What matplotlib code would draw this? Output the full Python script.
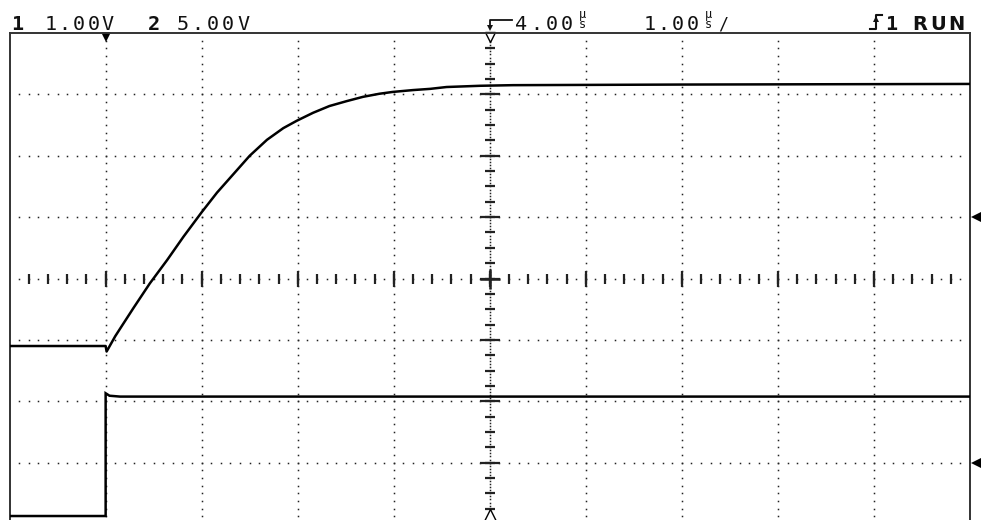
import matplotlib
matplotlib.use("Agg")
import matplotlib.pyplot as plt
from matplotlib.lines import Line2D
import numpy as np

W, H = 982, 520

# scope settings (from the header line)
ch1_scale = 1.0      # V/div
ch2_scale = 5.0      # V/div
ch1_ground = 1.0     # ground marker position, div from centre
ch2_ground = -3.0
t_div = 1.0          # us/div
delay = 4.0          # us at screen centre

# channel 1: slew-limited step response (t in us, volts)
ch1_t = [-1.0, 0.0, 0.01, 0.10, 0.17, 0.29, 0.46, 0.64, 0.81, 1.00, 1.16, 1.33,
         1.50, 1.68, 1.85, 1.99, 2.16, 2.33, 2.51, 2.68, 2.85, 2.99, 3.20, 3.38,
         3.55, 3.90, 4.24, 6.0, 9.0]
ch1_v = [-2.10, -2.10, -2.19, -1.94, -1.77, -1.48, -1.08, -0.70, -0.32, 0.08, 0.40, 0.70,
         1.00, 1.26, 1.45, 1.57, 1.70, 1.81, 1.89, 1.96, 2.01, 2.04, 2.07, 2.09,
         2.12, 2.14, 2.15, 2.16, 2.17]

# channel 2: input step
ch2_t = [-1.0, 0.0, 0.0, 0.04, 0.15, 9.0]
ch2_v = [-4.35, -4.35, 5.65, 5.45, 5.38, 5.38]

header = [  # text, x of first cell (px), cell pitch (px), bold
    ("1", 10, 14.0, True),
    ("1.00V", 43, 14.4, False),
    ("2", 146, 15.0, True),
    ("5.00V", 175, 15.2, False),
    ("4.00", 514, 15.0, False),
    ("1.00", 642, 14.5, False),
    ("1", 884, 14.0, True),
]


def fx(x):
    return x / W


def fy(y):
    return 1 - y / H


def main():
    fig = plt.figure(figsize=(W / 100, H / 100), dpi=100)
    # screen area: x 9.6..970 px, y 33..524 px (bottom is cut off)
    ax = fig.add_axes([9.6 / W, (H - 524) / H, 960.4 / W, 491 / H])
    x0, x1 = delay - 5 * t_div, delay + 5 * t_div
    ax.set_xlim(x0, x1)
    ax.set_ylim(-4, 4)
    ax.set_xticks([])
    ax.set_yticks([])
    for s in ax.spines.values():
        s.set_color("#333333")
        s.set_linewidth(1.4)

    dot = dict(ls="none", marker="s", ms=1.1, color="#222222", mew=0)
    # dotted graticule
    for k in range(1, 10):
        gx = x0 + k * t_div
        if gx == delay:
            continue
        ys = np.arange(-4, 4.001, 1 / 8)[1:-1]
        ax.plot(np.full_like(ys, gx), ys, **dot)
    for gy in [-3, -2, -1, 1, 2, 3]:
        xs = np.arange(x0, x1 + 1e-6, t_div / 10)[1:-1]
        ax.plot(xs, np.full_like(xs, gy), **dot)

    # centre axes with ticks
    xs = np.arange(x0, x1 + 1e-6, t_div / 10)[1:-1]
    ax.plot(xs, np.zeros_like(xs), **dot)
    xt = np.arange(x0, x1 + 1e-6, t_div / 5)[1:-1]
    ax.plot(xt, np.zeros_like(xt), ls="none", marker="|", ms=7.5, mew=1.6, color="#222222")
    xi = np.arange(x0 + t_div, x1, t_div)
    ax.plot(xi, np.zeros_like(xi), ls="none", marker="|", ms=12, mew=1.6, color="#222222")
    ys = np.arange(-4, 4.001, 1 / 20)[1:-1]
    ax.plot(np.full_like(ys, delay), ys, **dot)
    yt = np.arange(-4, 4.001, 0.25)[1:-1]
    ax.plot(np.full_like(yt, delay), yt, ls="none", marker="_", ms=7.5, mew=1.6, color="#222222")
    yi = np.arange(-3, 4, 1.0)
    ax.plot(np.full_like(yi, delay), yi, ls="none", marker="_", ms=14.5, mew=1.6, color="#222222")
    ax.plot([delay], [0], ls="none", marker="+", ms=15, mew=1.8, color="#222222")

    # traces
    y1 = np.array(ch1_v) / ch1_scale + ch1_ground
    y2 = np.array(ch2_v) / ch2_scale + ch2_ground
    ax.plot(ch1_t, y1, color="black", lw=1.8, solid_joinstyle="round", zorder=5)
    ax.plot(ch2_t, y2, color="black", lw=1.8, solid_joinstyle="miter", zorder=5)

    # markers on the screen edges
    ax.plot([0], [4 - 4.5 / 61.4], marker="v", ms=7, color="black", mew=0, clip_on=False)
    ax.plot([delay], [4 - 4.5 / 61.4], marker="v", ms=7, mfc="white", mec="black", mew=1, clip_on=False)
    ax.plot([delay], [-4 + 9 / 61.4], marker="^", ms=8, mfc="white", mec="black", mew=1, clip_on=False)
    for g in [ch1_ground, ch2_ground]:
        ax.plot([x1 + 5.5 / 96], [g], marker="<", ms=7, color="black", mew=0, clip_on=False)

    # header text, drawn cell by cell like the scope's fixed-pitch font
    base = fy(29.5)
    for text, x, pitch, bold in header:
        for i, c in enumerate(text):
            fig.text(fx(x + (i + 0.5) * pitch), base, c, ha="center", va="baseline",
                     family="DejaVu Sans Mono", fontsize=14.5,
                     fontweight="bold" if bold else "normal", color="#111111")
    for i, c in enumerate("RUN"):
        fig.text(fx(910 + (i + 0.5) * 18.5), base, c, ha="center", va="baseline",
                 family="DejaVu Sans", fontsize=14, fontweight="bold", color="#111111")

    # stacked "us" unit glyphs (one text each)
    for ux in [582, 708]:
        fig.text(fx(ux), fy(31), "\u00b5\ns", ha="center", va="bottom",
                 family="DejaVu Sans Mono", fontsize=8.5, linespacing=0.72,
                 color="#111111")
    fig.text(fx(723), base, "/", ha="center", va="baseline",
             family="DejaVu Sans Mono", fontsize=12, color="#111111")

    # delay reference symbol
    fig.add_artist(Line2D([fx(512), fx(490), fx(490)], [fy(20), fy(20), fy(26)],
                          transform=fig.transFigure, color="#111111", lw=1.3))
    fig.add_artist(Line2D([fx(490)], [fy(27.5)], transform=fig.transFigure,
                          marker="v", ms=5, color="#111111", mew=0))
    # rising-edge trigger symbol
    fig.add_artist(Line2D([fx(870), fx(876), fx(876), fx(882)],
                          [fy(28.5), fy(28.5), fy(15), fy(15)],
                          transform=fig.transFigure, color="#111111", lw=1.5))
    fig.add_artist(Line2D([fx(876)], [fy(19)], transform=fig.transFigure,
                          marker="^", ms=5, color="#111111", mew=0))

    fig.savefig("out.png", dpi=100)


if __name__ == "__main__":
    main()
